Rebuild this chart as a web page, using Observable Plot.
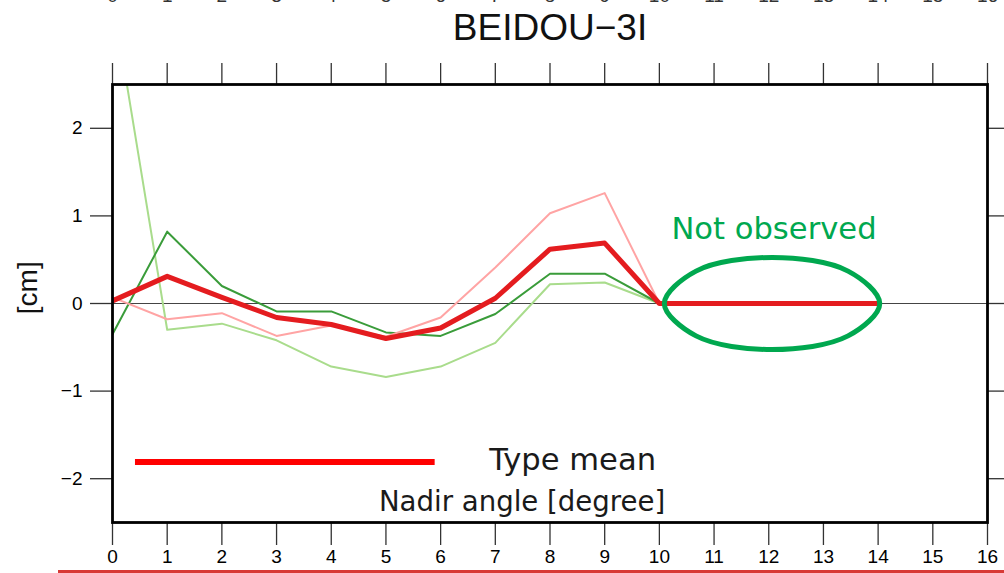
<!DOCTYPE html>
<html>
<head>
<meta charset="utf-8">
<script src="https://cdn.jsdelivr.net/npm/d3@7"></script>
<script src="https://cdn.jsdelivr.net/npm/@observablehq/plot@0.6"></script>
<style>
  html, body { margin: 0; padding: 0; background: #fff; }
  body { position: relative; width: 1004px; height: 573px; overflow: hidden; }
  #bottomline { position: absolute; left: 58px; top: 570px; width: 946px; height: 3px; background: #d83a36; }
</style>
</head>
<body>
<div id="chart"></div>
<div id="bottomline"></div>
<script>
// ---- data ----
const nadir = [0, 1, 2, 3, 4, 5, 6, 7, 8, 9, 10, 11, 12, 13, 14];
const typeMean   = [0.03, 0.31, 0.07, -0.16, -0.24, -0.40, -0.28, 0.06, 0.62, 0.69, 0, 0, 0, 0, 0];
const satPink    = [0.07, -0.18, -0.11, -0.37, -0.25, -0.38, -0.16, 0.41, 1.03, 1.26, 0, 0, 0, 0, 0];
const satGreen   = [-0.35, 0.82, 0.20, -0.09, -0.09, -0.33, -0.37, -0.12, 0.34, 0.34, 0, 0, 0, 0, 0];
const satLight   = [3.5, -0.30, -0.23, -0.42, -0.72, -0.84, -0.72, -0.45, 0.22, 0.24, 0, 0, 0, 0, 0];
const xTicks = [0, 1, 2, 3, 4, 5, 6, 7, 8, 9, 10, 11, 12, 13, 14, 15, 16];
const yTicks = [-2, -1, 0, 1, 2];
const title = "BEIDOU\u22123I";
// annotation ellipse ("Not observed" region)
const ellX = [10.09, 10.67, 12.06, 13.45, 14.03, 13.45, 12.06, 10.67];
const ellY = [0, 0.37, 0.525, 0.37, 0, -0.37, -0.525, -0.37];

const mk = (arr) => nadir.map((x, i) => ({x, y: arr[i]}));
const ellipse = ellX.map((x, i) => ({x, y: ellY[i]}));
const blank = () => "";

const chart = Plot.plot({
  width: 1004,
  height: 573,
  marginLeft: 112,
  marginRight: 17,
  marginTop: 84,
  marginBottom: 51,
  style: {fontFamily: "'Liberation Sans', Arial, sans-serif", background: "#fff"},
  x: {domain: [0, 16]},
  y: {domain: [-2.5, 2.5]},
  marks: [
    Plot.ruleY([0], {stroke: "#444", strokeWidth: 1.2}),
    Plot.line(mk(satLight), {x: "x", y: "y", stroke: "#a9dc8c", strokeWidth: 2, clip: true}),
    Plot.line(mk(satGreen), {x: "x", y: "y", stroke: "#3a9c3a", strokeWidth: 2, clip: true}),
    Plot.line(mk(satPink), {x: "x", y: "y", stroke: "#ffa4a4", strokeWidth: 2, clip: true}),
    Plot.line(mk(typeMean), {x: "x", y: "y", stroke: "#e41c1f", strokeWidth: 5, clip: true}),
    Plot.line(ellipse, {x: "x", y: "y", curve: "catmull-rom-closed", stroke: "#00a84f", strokeWidth: 5, fill: "none"}),
    Plot.text(["Not observed"], {x: 10.22, y: 0.85, textAnchor: "start", fill: "#00a84f", fontSize: 30.6, fontFamily: "'DejaVu Sans', sans-serif"}),
    // legend
    Plot.ruleY([-1.81], {x1: 0.42, x2: 5.9, stroke: "#ff0000", strokeWidth: 6}),
    Plot.text(["Type mean"], {x: 6.89, y: -1.79, textAnchor: "start", fill: "#1a1a1a", fontSize: 30.6, fontFamily: "'DejaVu Sans', sans-serif"}),
    Plot.text(["Nadir angle [degree]"], {x: 7.49, y: -2.27, fill: "#1a1a1a", fontSize: 27.6, fontFamily: "'DejaVu Sans', sans-serif"}),
    // axes
    Plot.axisX({anchor: "bottom", ticks: xTicks, tickSize: 23, tickPadding: 4, fontSize: 19, stroke: "#333", strokeWidth: 1.3, label: null, tickFormat: d3.format("d")}),
    Plot.axisX({anchor: "top", ticks: xTicks, tickSize: 22, tickFormat: blank, stroke: "#333", strokeWidth: 1.3, label: null}),
    Plot.axisY({anchor: "left", ticks: yTicks, tickSize: 22, tickPadding: 8, fontSize: 19, stroke: "#333", strokeWidth: 1.3, label: null, tickFormat: (d) => d < 0 ? "\u2212" + Math.abs(d) : String(d)}),
    Plot.axisY({anchor: "right", ticks: yTicks, tickSize: 22, tickFormat: blank, stroke: "#333", strokeWidth: 1.3, label: null}),
    Plot.frame({stroke: "#000", strokeWidth: 2.8}),
    // title & y label
    Plot.text([title], {frameAnchor: "top", lineAnchor: "top", dy: -70.6, fontSize: 37, fill: "#111"}),
    Plot.text(["[cm]"], {frameAnchor: "left", y: 0.18, dx: -84, rotate: -90, textAnchor: "middle", fontSize: 28, fill: "#111"}),
    // cut-off labels of the panel above
    Plot.text(xTicks, {x: (d) => d, frameAnchor: "top", lineAnchor: "top", dy: -96, fontSize: 19, fill: "#333", text: (d) => String(d)})
  ]
});
document.getElementById("chart").appendChild(chart);
</script>
</body>
</html>
